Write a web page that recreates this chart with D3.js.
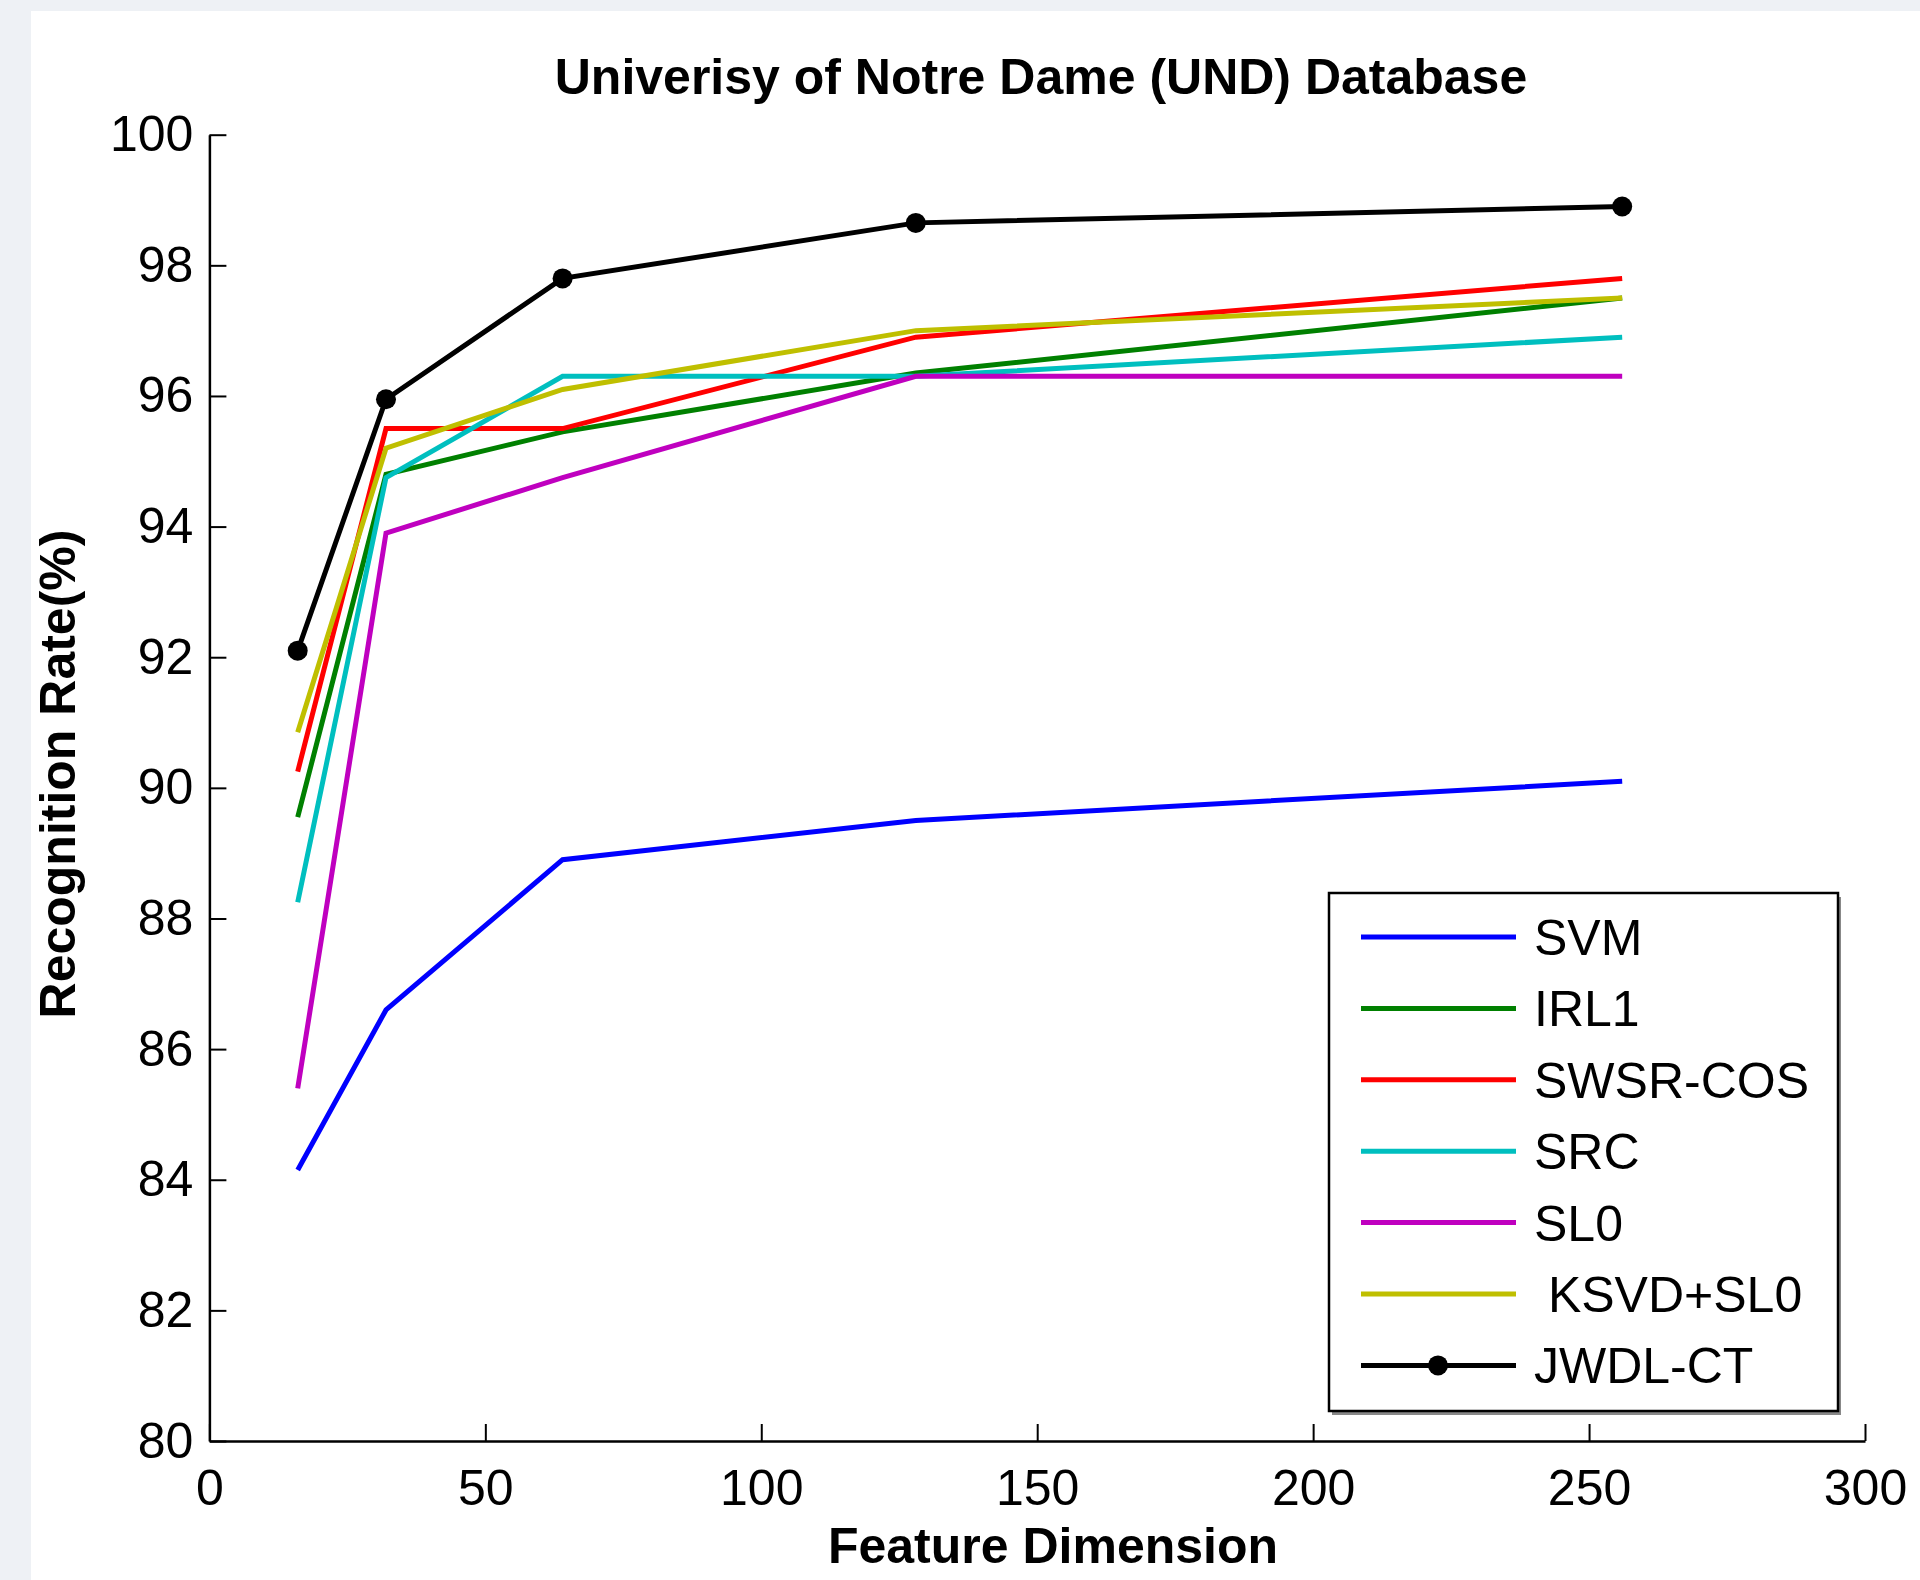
<!DOCTYPE html>
<html>
<head>
<meta charset="utf-8">
<title>UND Database</title>
<script src="https://d3js.org/d3.v7.min.js"></script>
<style>
  body{ margin:0; background:#eef1f5; }
  svg text{ font-family:"Liberation Sans", Arial, Helvetica, sans-serif; fill:#000; }
  .tick text{ font-size:50px; }
  .tick line{ stroke:#000; stroke-width:2px; }
  .domain{ stroke:#000; stroke-width:2.5px; }
  .legend-text{ font-size:50px; white-space:pre; }
</style>
</head>
<body>
<svg id="chart" width="1920" height="1580"></svg>
<script>
  //feature dimensions used on the x axis
  var dims = [16, 32, 64, 128, 256];

  //recognition rates
  var svm   = [84.15, 86.6, 88.9, 89.5, 90.1];
  var irl1  = [89.55, 94.8, 95.45, 96.35, 97.5];
  var swsr  = [90.25, 95.5, 95.5, 96.9, 97.8];
  var src   = [88.25, 94.75, 96.3, 96.3, 96.9];
  var sl0   = [85.4, 93.9, 94.75, 96.3, 96.3];
  var ksvd  = [90.85, 95.2, 96.1, 97.0, 97.5];
  var jwdl  = [92.1, 95.95, 97.8, 98.65, 98.9];

  var names  = ["SVM", "IRL1", "SWSR-COS", "SRC", "SL0", " KSVD+SL0", "JWDL-CT"];
  var colors = ["#0000ff", "#008000", "#ff0000", "#00bfbf", "#bf00bf", "#bfbf00", "#000000"];
  var values = [svm, irl1, swsr, src, sl0, ksvd, jwdl];

  var xTicks = [0, 50, 100, 150, 200, 250, 300];
  var yTicks = [80, 82, 84, 86, 88, 90, 92, 94, 96, 98, 100];

  var svg = d3.select("svg#chart");

  //white figure panel
  svg.append("rect")
    .attr("x", 31).attr("y", 11)
    .attr("width", 1920-31).attr("height", 1580-11)
    .attr("fill", "#fff");

  var x = d3.scaleLinear().domain([0, 300]).range([209.4, 1865]);
  var y = d3.scaleLinear().domain([80, 100]).range([1441, 134.7]);

  //axes, matlab style ticks pointing inward
  svg.append("g")
    .attr("transform", "translate(0," + y(80) + ")")
    .call(d3.axisBottom(x).tickValues(xTicks).tickSizeInner(-17).tickSizeOuter(0).tickPadding(28));

  svg.append("g")
    .attr("transform", "translate(" + x(0) + ",0)")
    .call(d3.axisLeft(y).tickValues(yTicks).tickSizeInner(-17).tickSizeOuter(0).tickPadding(16));

  //title and axis labels
  svg.append("text")
    .attr("x", 1041).attr("y", 94)
    .attr("text-anchor", "middle")
    .style("font-size", "50px").style("font-weight", "bold")
    .text("Univerisy of Notre Dame (UND) Database");

  svg.append("text")
    .attr("x", 1053).attr("y", 1563)
    .attr("text-anchor", "middle")
    .style("font-size", "50px").style("font-weight", "bold")
    .text("Feature Dimension");

  svg.append("text")
    .attr("transform", "translate(75,774) rotate(-90)")
    .attr("text-anchor", "middle")
    .style("font-size", "50px").style("font-weight", "bold")
    .text("Recognition Rate(%)");

  //series lines
  var line = d3.line()
    .x(function(d, i){ return x(dims[i]); })
    .y(function(d){ return y(d); });

  var series = svg.append("g").attr("class", "series");
  values.forEach(function(v, k){
    series.append("path")
      .attr("d", line(v))
      .attr("fill", "none")
      .attr("stroke", colors[k])
      .attr("stroke-width", 5)
      .attr("stroke-linejoin", "miter");
  });

  //dots for JWDL-CT
  series.selectAll("circle")
    .data(jwdl)
    .enter().append("circle")
    .attr("cx", function(d, i){ return x(dims[i]); })
    .attr("cy", function(d){ return y(d); })
    .attr("r", 10)
    .attr("fill", "#000");

  //legend
  var legend = svg.append("g").attr("class", "legend");
  var lx = 1329, ly = 893, lw = 509, lh = 518;

  legend.append("rect")
    .attr("x", lx + 3).attr("y", ly + 4)
    .attr("width", lw).attr("height", lh)
    .attr("fill", "#888");
  legend.append("rect")
    .attr("x", lx).attr("y", ly)
    .attr("width", lw).attr("height", lh)
    .attr("fill", "#fff")
    .attr("stroke", "#000")
    .attr("stroke-width", 2.5);

  names.forEach(function(n, k){
    var ry = 937 + k*71.4;
    legend.append("line")
      .attr("x1", 1361).attr("x2", 1516)
      .attr("y1", ry).attr("y2", ry)
      .attr("stroke", colors[k])
      .attr("stroke-width", 5);
    legend.append("text")
      .attr("class", "legend-text")
      .attr("x", 1534).attr("y", ry + 18)
      .text(n);
  });

  legend.append("circle")
    .attr("cx", 1438).attr("cy", 937 + 6*71.4)
    .attr("r", 10)
    .attr("fill", "#000");
</script>
</body>
</html>
